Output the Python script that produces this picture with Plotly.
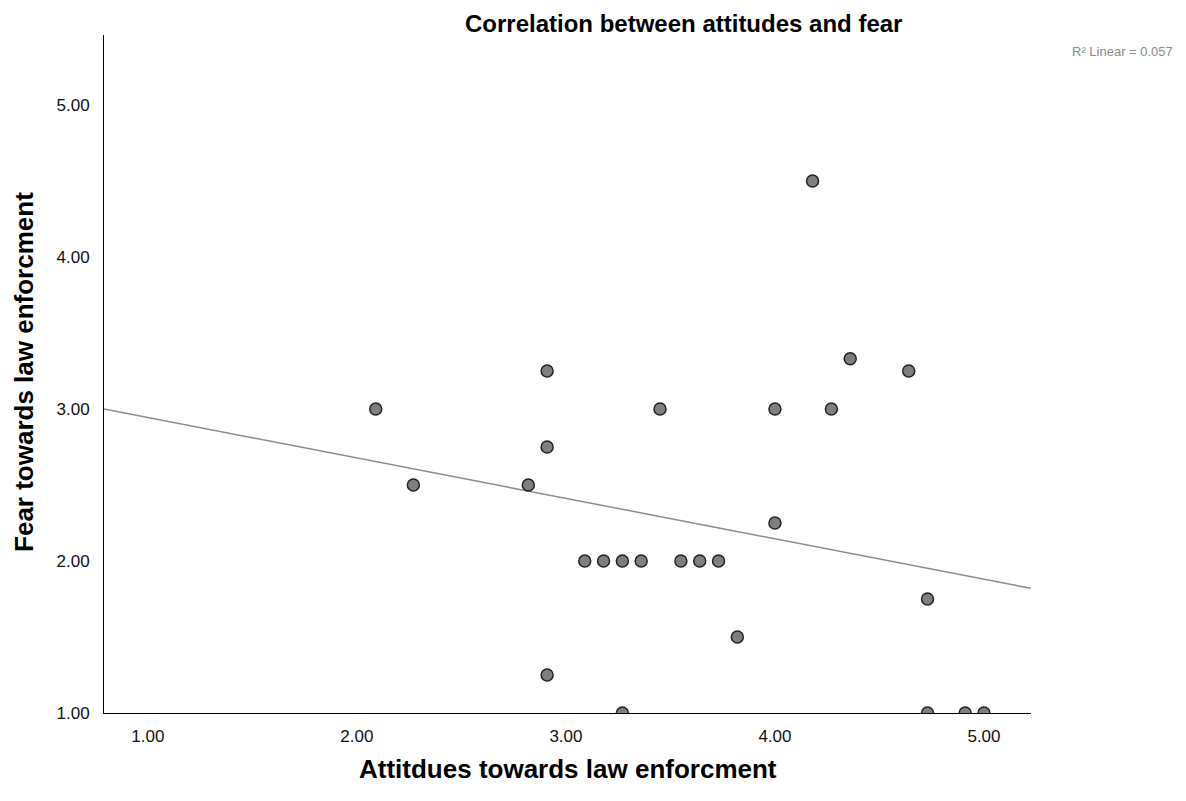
import plotly.graph_objects as go

attitudes = [2.09, 2.27, 2.82, 2.91, 2.91, 2.91, 3.27, 3.09, 3.18, 3.27, 3.36, 3.55, 3.64, 3.73,
             3.45, 3.82, 4.00, 4.00, 4.18, 4.27, 4.36, 4.64, 4.73, 4.73, 4.91, 5.00]
fear = [3.00, 2.50, 2.50, 3.25, 2.75, 1.25, 1.00, 2.00, 2.00, 2.00, 2.00, 2.00, 2.00, 2.00,
        3.00, 1.50, 3.00, 2.25, 4.50, 3.00, 3.33, 3.25, 1.75, 1.00, 1.00, 1.00]
fit_intercept = 3.21
fit_slope = -0.266
r2_text = "R² Linear = 0.057"
x_ticks = [1, 2, 3, 4, 5]
y_ticks = [1, 2, 3, 4, 5]
x_range = [0.79, 5.225]
y_range = [1.0, 5.46]

FONT = "Liberation Sans, Arial, sans-serif"

fig = go.Figure()
fig.add_trace(go.Scatter(
    x=x_range, y=[fit_intercept + fit_slope * v for v in x_range],
    mode="lines", line=dict(color="#8a8a8a", width=1.5), hoverinfo="skip", showlegend=False))
fig.add_trace(go.Scatter(
    x=attitudes, y=fear, mode="markers",
    marker=dict(size=12, color="#7f7f7f", line=dict(color="#222222", width=1.5)),
    showlegend=False))

fig.update_layout(
    width=1170, height=785,
    margin=dict(l=96, r=147, t=27, b=80),
    paper_bgcolor="white", plot_bgcolor="white",
    font=dict(family=FONT, color="#000000"),
    xaxis=dict(range=x_range, tickvals=x_ticks, ticktext=[f"{v:.2f}" for v in x_ticks],
               showgrid=False, zeroline=False, showline=True, linecolor="#000000", linewidth=1,
               ticks="", ticklen=0, tickfont=dict(size=17, family=FONT, color="#111111"),
               ticklabelstandoff=8),
    yaxis=dict(range=y_range, tickvals=y_ticks, ticktext=[f"{v:.2f}" for v in y_ticks],
               showgrid=False, zeroline=False, showline=True, linecolor="#000000", linewidth=1,
               ticks="", ticklen=0, tickfont=dict(size=17, family=FONT, color="#111111"),
               ticklabelstandoff=10),
    annotations=[
        dict(text="<b>Correlation between attitudes and fear</b>", xref="paper", yref="paper",
             x=0.6246, y=1.0, yshift=27, xanchor="center", yanchor="top", showarrow=False,
             font=dict(size=24, family=FONT)),
        dict(text=r2_text, xref="paper", yref="paper", x=1.1553, y=0.975, xanchor="right",
             yanchor="middle", showarrow=False, font=dict(size=13, family=FONT, color="#8a8a8a")),
        dict(text="<b>Attitdues towards law enforcment</b>", xref="paper", yref="paper",
             x=0.5, y=0.0, yshift=-56, xanchor="center", yanchor="middle", showarrow=False,
             font=dict(size=26, family=FONT)),
        dict(text="<b>Fear towards law enforcment</b>", xref="paper", yref="paper",
             x=0.0, xshift=-80, y=0.503, xanchor="center", yanchor="middle", textangle=-90,
             showarrow=False, font=dict(size=26, family=FONT)),
    ],
)

fig.write_html("out.html")
